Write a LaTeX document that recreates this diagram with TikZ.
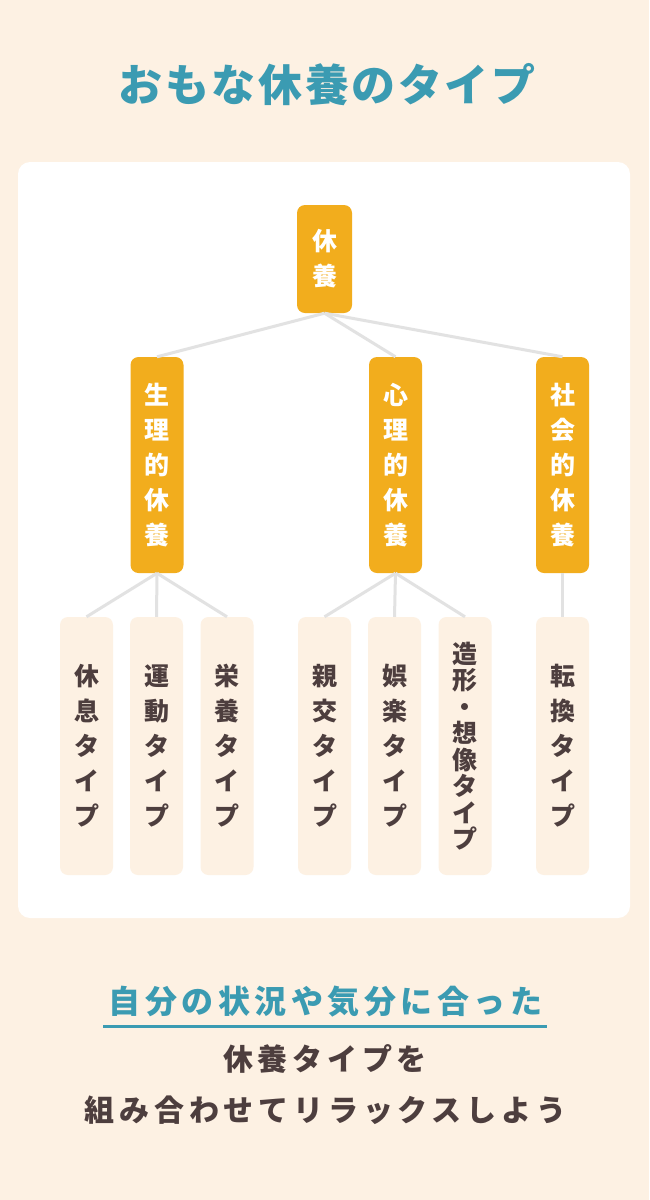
\documentclass[tikz,border=0pt]{standalone}
\usepackage{fontspec}
\setmainfont{Noto Sans CJK JP}
\usepackage{tikz}
\usetikzlibrary{calc}

\definecolor{creambg}{RGB}{253,241,227}
\definecolor{restorange}{RGB}{242,173,29}
\definecolor{headteal}{RGB}{59,155,178}
\definecolor{textbrown}{RGB}{77,62,62}
\definecolor{linkgray}{RGB}{226,226,226}

\begin{document}
\begin{tikzpicture}[x=1pt,y=-1pt,
  root/.style={fill=restorange,text=white,rounded corners=8pt,inner sep=0pt,
    minimum width=55pt,minimum height=108pt,align=center,
    font=\bfseries\fontsize{25}{35}\selectfont},
  kind/.style={root,minimum width=53pt,minimum height=216pt},
  leaf/.style={fill=creambg,text=textbrown,rounded corners=8pt,inner sep=0pt,
    minimum width=53pt,minimum height=258pt,align=center,
    font=\bfseries\fontsize{25}{35}\selectfont},
  leaftight/.style={leaf,font=\bfseries\fontsize{25}{26.5}\selectfont},
  link/.style={draw=linkgray,line width=3pt}]
\useasboundingbox (0,0) rectangle (649,1200);
\fill[creambg] (0,0) rectangle (649,1200);
\fill[white,rounded corners=12pt] (18,162) rectangle (630,918);

% title
\node[text=headteal,font=\bfseries\fontsize{44}{50}\selectfont\addfontfeatures{LetterSpace=6}] (ttl) at (327,85) {おもな休養のタイプ};

% tree
\node[root] (kyuyo) at (324.5,259) {休\\養};
\node[kind] (seiri) at (157,465) {生\\理\\的\\休\\養};
\node[kind] (shinri) at (395.5,465) {心\\理\\的\\休\\養};
\node[kind] (shakai) at (562.5,465) {社\\会\\的\\休\\養};

\node[leaf] (kyusoku) at (86.5,746) {休\\息\\タ\\イ\\プ};
\node[leaf] (undo) at (156.5,746) {運\\動\\タ\\イ\\プ};
\node[leaf] (eiyo) at (227,746) {栄\\養\\タ\\イ\\プ};
\node[leaf] (shinko) at (324.5,746) {親\\交\\タ\\イ\\プ};
\node[leaf] (goraku) at (394.5,746) {娯\\楽\\タ\\イ\\プ};
\node[leaftight] (zokei) at (465,746) {造\\形\\・\\想\\像\\タ\\イ\\プ};
\node[leaf] (tenkan) at (562.5,746) {転\\換\\タ\\イ\\プ};

\foreach \c in {seiri,shinri,shakai}
    \draw[link] (kyuyo.south) -- (\c.north);
\foreach \c in {kyusoku,undo,eiyo}
    \draw[link] (seiri.south) -- (\c.north);
\foreach \c in {shinko,goraku,zokei}
    \draw[link] (shinri.south) -- (\c.north);
\draw[link] (shakai.south) -- (tenkan.north);

% bottom message
\node[text=headteal,font=\bfseries\fontsize{32}{38}\selectfont\addfontfeatures{LetterSpace=14}] (msga) at (325.5,1002) {自分の状況や気分に合った};
\coordinate (ulstart) at (103,1026);
\coordinate (ulend) at (547,1026);
\draw[headteal,line width=3pt] (ulstart) -- (ulend);
\node[text=textbrown,font=\bfseries\fontsize{30}{36}\selectfont\addfontfeatures{LetterSpace=16}] (msgb) at (325,1059) {休養タイプを};
\node[text=textbrown,font=\bfseries\fontsize{30}{36}\selectfont\addfontfeatures{LetterSpace=16}] (msgc) at (325.5,1110) {組み合わせてリラックスしよう};
\end{tikzpicture}
\end{document}
